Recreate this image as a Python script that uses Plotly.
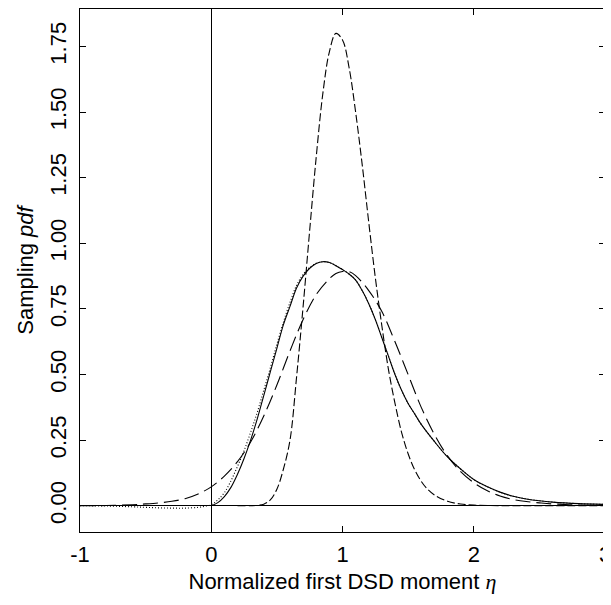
import plotly.graph_objects as go

# ---- data ----
eta_solid = [0.0, 0.05, 0.1, 0.15, 0.2, 0.25, 0.3, 0.35, 0.4, 0.45, 0.5, 0.55, 0.6, 0.65,
             0.7, 0.75, 0.8, 0.85, 0.9, 0.95, 1.0, 1.05, 1.1, 1.15, 1.2, 1.25, 1.3, 1.35,
             1.4, 1.45, 1.5, 1.55, 1.6, 1.7, 1.8, 1.9, 2.0, 2.1, 2.2, 2.3, 2.4, 2.5, 2.6,
             2.8, 3.0]
pdf_solid = [0.0, 0.012, 0.035, 0.07, 0.12, 0.18, 0.25, 0.33, 0.42, 0.51, 0.6, 0.69, 0.76,
             0.83, 0.875, 0.905, 0.923, 0.93, 0.927, 0.915, 0.9, 0.883, 0.86, 0.82, 0.77,
             0.71, 0.64, 0.57, 0.50, 0.44, 0.39, 0.35, 0.31, 0.245, 0.186, 0.14, 0.10,
             0.073, 0.052, 0.036, 0.026, 0.019, 0.014, 0.008, 0.005]

eta_dot = [-1.0, -0.8, -0.6, -0.5, -0.4, -0.3, -0.2, -0.1, -0.05, 0.0, 0.05, 0.1, 0.15,
           0.2, 0.25, 0.3, 0.35, 0.4, 0.45, 0.5, 0.55, 0.6, 0.65, 0.7, 0.75, 0.8, 0.85,
           0.9, 0.95, 1.0, 1.05, 1.1, 1.15, 1.2, 1.25, 1.3, 1.35, 1.4, 1.45, 1.5, 1.55,
           1.6, 1.7, 1.8, 1.9, 2.0, 2.1, 2.2, 2.3, 2.4, 2.5, 2.6, 2.8, 3.0]
pdf_dot = [0.0, -0.001, -0.004, -0.006, -0.008, -0.009, -0.009, -0.006, -0.002, 0.004,
           0.022, 0.05, 0.095, 0.15, 0.21, 0.28, 0.355, 0.44, 0.525, 0.615, 0.70, 0.775,
           0.84, 0.882, 0.908, 0.924, 0.93, 0.927, 0.915, 0.9, 0.883, 0.86, 0.82, 0.77,
           0.71, 0.64, 0.57, 0.50, 0.44, 0.39, 0.35, 0.31, 0.245, 0.186, 0.14, 0.10,
           0.073, 0.052, 0.036, 0.026, 0.019, 0.014, 0.008, 0.005]

eta_long = [-1.0, -0.8, -0.6, -0.5, -0.4, -0.3, -0.2, -0.1, 0.0, 0.1, 0.2, 0.3, 0.4, 0.5,
            0.6, 0.7, 0.8, 0.9, 0.95, 1.0, 1.05, 1.1, 1.2, 1.3, 1.4, 1.5, 1.6, 1.7, 1.8,
            1.9, 2.0, 2.1, 2.2, 2.3, 2.4, 2.5, 2.6, 2.8, 3.0]
pdf_long = [0.0, 0.001, 0.004, 0.007, 0.011, 0.017, 0.027, 0.045, 0.072, 0.113, 0.168,
            0.243, 0.342, 0.46, 0.59, 0.71, 0.805, 0.865, 0.885, 0.893, 0.892, 0.877,
            0.82, 0.74, 0.625, 0.5, 0.375, 0.272, 0.19, 0.13, 0.088, 0.058, 0.037,
            0.024, 0.016, 0.011, 0.007, 0.003, 0.001]

eta_med = [0.2, 0.3, 0.35, 0.4, 0.45, 0.5, 0.55, 0.6, 0.65, 0.7, 0.75, 0.8, 0.85, 0.9,
           0.95, 1.0, 1.05, 1.1, 1.15, 1.2, 1.25, 1.3, 1.35, 1.4, 1.45, 1.5, 1.55, 1.6,
           1.65, 1.7, 1.8, 1.9, 2.0, 2.2, 2.5, 3.0]
pdf_med = [0.0, 0.0005, 0.0015, 0.006, 0.022, 0.063, 0.14, 0.25, 0.49, 0.76, 1.05, 1.33,
           1.57, 1.73, 1.80, 1.775, 1.67, 1.50, 1.30, 1.08, 0.87, 0.685, 0.52, 0.39,
           0.28, 0.198, 0.137, 0.093, 0.062, 0.041, 0.017, 0.0065, 0.0024, 0.0003, 0.0,
           0.0]

x_ticks = [-1, 0, 1, 2, 3]
x_ticktext = ["-1", "0", "1", "2", "3"]
y_ticks = [0, 0.25, 0.5, 0.75, 1.0, 1.25, 1.5, 1.75]
y_ticktext = ["0.00", "0.25", "0.50", "0.75", "1.00", "1.25", "1.50", "1.75"]

FONT = "Liberation Sans, Arial, Helvetica, sans-serif"
LW = 1.1

fig = go.Figure()
fig.add_trace(go.Scatter(x=eta_long, y=pdf_long, mode="lines",
                         line=dict(color="black", width=LW, dash="15px,6px", shape="spline")))
fig.add_trace(go.Scatter(x=eta_med, y=pdf_med, mode="lines",
                         line=dict(color="black", width=LW, dash="8px,3px", shape="spline")))
fig.add_trace(go.Scatter(x=eta_dot, y=pdf_dot, mode="lines",
                         line=dict(color="black", width=LW, dash="1px,2px", shape="spline")))
fig.add_trace(go.Scatter(x=eta_solid, y=pdf_solid, mode="lines",
                         line=dict(color="black", width=LW, shape="spline")))

axis_common = dict(
    showgrid=False, showline=True, linecolor="black", linewidth=1.2, mirror="ticks",
    ticks="inside", ticklen=6, tickwidth=1.2, tickcolor="black",
    zeroline=True, zerolinecolor="black", zerolinewidth=1.1,
    tickfont=dict(family=FONT, size=22, color="black"),
    ticklabeloverflow="allow",
)

# The page body keeps its default 8px margin, so the figure is sized to fit the
# 611x605 window starting 8px in from the top-left corner.
fig.update_layout(
    width=603, height=597,
    margin=dict(l=72, r=6, t=1, b=73),
    plot_bgcolor="white", paper_bgcolor="white",
    showlegend=False,
    font=dict(family=FONT, size=22, color="black"),
    xaxis=dict(range=[-1, 3], tickvals=x_ticks, ticktext=x_ticktext,
               ticklabelstandoff=2,
               title=dict(text="Normalized first DSD moment <span style=\"font-family:'Liberation Serif', serif\"><i>η</i></span>",
                          font=dict(family=FONT, size=22, color="black"), standoff=8),
               **axis_common),
    yaxis=dict(range=[-0.1, 1.893], tickvals=y_ticks, ticktext=y_ticktext, tickangle=-90,
               ticklabelstandoff=4,
               title=dict(text="Sampling <i>pdf</i>",
                          font=dict(family=FONT, size=22, color="black"), standoff=6),
               **axis_common),
)

fig.write_html("out.html")
